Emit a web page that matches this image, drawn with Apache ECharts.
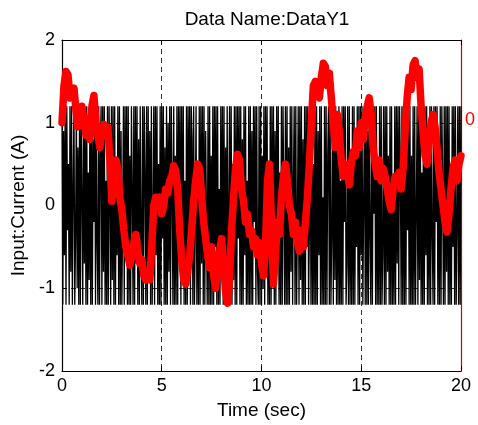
<!DOCTYPE html>
<html>
<head>
<meta charset="utf-8">
<script src="https://cdn.jsdelivr.net/npm/echarts@6/dist/echarts.min.js"></script>
<style>
  html, body { margin: 0; padding: 0; background: #fff; }
  #chart { width: 478px; height: 425px; }
</style>
</head>
<body>
<div id="chart"></div>
<script>
// Excitation input (black), sampled every 0.04 s
const inputStep = 0.04;
const inputValues = [
  1.2,-1.2,0.9,-0.6,1.2,-1.2,1.2,-0.3,0.5,-1.2,
  1.2,-0.8,1.2,-1.2,0.2,1.2,-1.2,-0.4,1.2,-1.0,
  0.7,-1.2,1.2,-1.2,1.2,0.1,-1.2,1.2,-0.7,1.0,
  -1.2,1.2,-1.2,0.4,-0.9,1.2,-1.2,1.2,-1.2,0.8,
  -0.2,1.2,-1.2,1.2,-0.5,-1.2,1.2,-1.2,0.6,1.2,
  -1.2,1.2,-0.8,1.2,-1.2,0.3,-1.2,1.2,-1.2,1.2,
  0.0,-1.2,1.2,-0.9,1.2,-1.2,1.2,-1.2,0.5,-0.6,
  1.2,-1.2,1.2,-1.2,0.9,-1.2,-0.1,1.2,-1.2,1.2,
  -0.4,1.2,-1.2,1.2,-1.2,0.6,-1.2,1.2,0.2,-1.2,
  1.2,-1.2,1.2,-0.7,1.2,-1.2,0.8,-1.2,1.2,-0.3,
  -1.2,1.2,-1.2,1.2,0.4,-1.2,1.2,-1.2,1.2,-0.9,
  0.9,-1.2,1.2,-1.2,-0.2,1.2,-1.2,1.2,-0.6,1.2,
  -1.2,0.5,-1.2,1.2,-1.2,1.2,-0.4,1.2,-1.2,0.7,
  -1.2,1.2,-1.2,1.0,-0.8,1.2,-1.2,1.2,0.1,-1.2,
  1.2,-1.2,0.6,-1.2,1.2,-1.2,1.2,-0.2,1.2,-1.2,
  1.2,-0.9,1.2,-1.2,0.3,-1.2,1.2,-1.2,1.2,-0.5,
  1.2,-1.2,1.2,0.8,-1.2,1.2,-1.2,-0.3,1.2,-1.2,
  0.4,-1.2,1.2,-1.2,1.2,-0.7,1.2,-1.2,1.2,-1.2,
  0.9,-0.1,-1.2,1.2,-1.2,1.2,-1.2,0.6,-1.2,1.2,
  -1.2,1.2,-0.5,1.2,-1.2,1.2,-1.2,0.2,-1.2,1.2,
  -0.8,1.2,-1.2,1.2,-1.2,0.7,-1.2,1.2,-1.2,0.0,
  1.2,-1.2,1.2,-1.2,0.5,-0.9,1.2,-1.2,1.2,-1.2,
  1.2,-0.4,1.2,-1.2,1.2,-1.2,0.8,-1.2,1.2,-0.6,
  1.2,-1.2,0.3,-1.2,1.2,-1.2,1.2,-1.2,0.9,-1.2,
  1.2,-0.2,1.2,-1.2,1.2,-0.8,-1.2,1.2,-1.2,1.2,
  -1.2,0.6,-1.0,1.2,-1.2,1.2,-0.3,1.2,-1.2,0.2,
  -1.2,1.2,-1.2,1.2,-0.7,1.2,-1.2,0.9,-1.2,1.2,
  -0.5,1.2,-1.2,0.4,-1.2,1.2,-1.2,1.2,-0.1,-1.2,
  1.2,-1.2,1.2,-1.2,0.7,-1.2,1.2,-0.8,1.2,-1.2,
  0.3,1.2,-1.2,1.2,-1.2,-0.2,1.2,-1.2,1.2,-0.9,
  1.2,-1.2,0.8,-1.2,1.2,-1.2,1.2,-0.5,1.2,-1.2,
  -0.3,1.2,-1.2,1.2,-1.2,0.5,-1.2,1.2,-1.2,1.2,
  -1.2,0.9,-0.6,1.2,-1.2,1.2,-1.2,0.1,-1.2,1.2,
  -1.2,1.2,-1.2,0.6,1.2,-1.2,1.2,-1.2,-0.4,1.2,
  -1.2,1.2,-0.9,1.2,-1.2,0.8,-1.2,1.2,-1.2,0.3,
  -1.2,1.2,-1.2,1.2,-0.2,1.2,-1.2,-0.7,1.2,-1.2,
  1.2,-1.2,0.5,-1.2,1.2,-1.2,1.2,-1.2,0.7,-0.5,
  1.2,-1.2,1.2,-1.2,1.2,-0.6,1.2,-1.2,0.0,1.2,
  -1.2,1.2,-1.2,0.9,-1.2,1.2,-0.4,-1.2,1.2,-1.2,
  1.2,-0.1,1.2,-1.2,1.2,-1.2,0.4,-1.2,1.2,-1.2,
  1.2,-1.2,-0.6,1.2,-1.2,1.2,-1.2,1.2,-0.8,0.6,
  -1.2,1.2,-1.2,1.2,-1.2,0.2,-1.2,1.2,-1.2,1.2,
  -0.7,1.2,-1.2,1.2,0.5,-1.2,1.2,-1.2,1.2,-1.2,
  0.8,-1.2,1.2,-0.3,1.2,-1.2,1.2,-1.2,0.6,-1.2,
  1.2,-1.2,1.2,-1.2,-0.1,1.2,-1.2,1.2,-0.9,1.2,
  -1.2,0.4,-1.2,1.2,-1.2,1.2,-0.6,1.2,-1.2,0.9,
  -1.2,1.2,-1.2,1.2,-0.4,-1.2,1.2,-1.2,1.2,-0.2,
  1.2,-1.2,0.7,-1.2,1.2,-1.2,1.2,0.3,-1.2,1.2,
  -1.2,1.2,-0.8,1.2,-1.2,1.2,-1.2,0.5,-1.2,1.2,
  -0.5,1.2,-1.2,1.2,-1.2,-0.3,1.2,-1.2,1.2,-1.2,
  1.2
];

// Measured current (red), sampled every 0.1 s
const currentStep = 0.1;
const currentValues = [
  1.0,1.45,1.62,1.58,1.3,1.35,1.42,1.15,0.95,1.05,
  1.2,1.0,0.85,1.05,0.8,1.2,1.33,1.0,0.85,0.7,
  0.9,0.98,0.85,0.95,0.55,0.05,0.35,0.55,0.45,0.1,
  -0.05,-0.3,-0.5,-0.6,-0.72,-0.6,-0.45,-0.35,-0.55,-0.7,
  -0.65,-0.85,-0.9,-0.82,-0.9,-0.5,0.0,0.1,0.05,0.1,
  -0.1,0.0,0.2,0.15,0.3,0.35,0.48,0.42,0.2,-0.3,
  -0.65,-0.9,-0.95,-0.8,-0.6,-0.3,0.05,0.3,0.5,0.45,
  0.1,-0.2,-0.4,-0.6,-0.75,-0.5,-0.85,-1.0,-0.8,-0.55,
  -0.4,-0.7,-1.05,-1.18,-0.9,-0.3,0.1,0.45,0.62,0.55,
  0.2,0.05,-0.2,-0.1,-0.35,-0.3,-0.5,-0.4,-0.6,-0.45,
  -0.7,-0.85,-0.5,0.3,0.5,-0.2,-0.95,-0.6,-0.2,-0.35,
  0.1,0.35,0.5,0.3,0.0,-0.1,-0.35,-0.2,-0.45,-0.55,
  -0.3,-0.5,-0.2,0.1,0.5,1.0,1.45,1.5,1.35,1.3,
  1.55,1.72,1.68,1.45,1.6,1.3,1.0,0.7,1.1,0.9,
  0.55,0.35,0.5,0.4,0.25,0.5,0.65,0.6,0.9,0.7,
  1.0,0.8,1.05,1.2,1.3,1.1,0.7,0.5,0.35,0.55,
  0.3,0.45,0.35,0.2,0.05,-0.05,0.2,0.35,0.3,0.4,
  0.2,0.45,0.9,1.3,1.55,1.4,1.7,1.75,1.55,1.65,
  1.2,0.9,0.6,0.5,0.75,1.0,1.1,0.95,0.7,0.4,
  0.2,0.0,-0.2,-0.32,-0.1,0.2,0.45,0.55,0.3,0.5,
  0.6
];

const xTicks = [0, 5, 10, 15, 20];
const yTicks = [-2, -1, 0, 1, 2];
const rightTicks = [0];

const FONT = 'Liberation Sans, Arial, sans-serif';
const inputData = inputValues.map((v, i) => [+(i * inputStep).toFixed(3), v]);
const currentData = currentValues.map((v, i) => [+(i * currentStep).toFixed(3), v]);

const chart = echarts.init(document.getElementById('chart'), null, { renderer: 'canvas' });

chart.setOption({
  animation: false,
  backgroundColor: '#ffffff',
  title: {
    text: 'Data Name:DataY1',
    left: 262,
    textAlign: 'center',
    top: 5,
    textStyle: { fontFamily: FONT, fontSize: 19, fontWeight: 'normal', color: '#000' }
  },
  grid: { left: 62, right: 16, top: 40, bottom: 54, containLabel: false },
  xAxis: [
    {
      type: 'value', min: xTicks[0], max: xTicks[xTicks.length - 1], interval: 5,
      name: 'Time (sec)', nameLocation: 'middle', nameGap: 30,
      nameTextStyle: { fontFamily: FONT, fontSize: 19, color: '#000' },
      axisLine: { onZero: false, lineStyle: { color: '#000', width: 1.2 } },
      axisTick: { inside: true, length: 5, lineStyle: { color: '#000' } },
      axisLabel: { fontFamily: FONT, fontSize: 18, color: '#000', margin: 6 },
      splitLine: { show: true, lineStyle: { color: '#333', type: [5, 4], width: 1 } }
    },
    {
      type: 'value', position: 'top', min: xTicks[0], max: xTicks[xTicks.length - 1], interval: 5,
      axisLine: { onZero: false, lineStyle: { color: '#000', width: 1.2 } },
      axisTick: { inside: true, length: 5, lineStyle: { color: '#000' } },
      axisLabel: { show: false },
      splitLine: { show: false }
    }
  ],
  yAxis: [
    {
      type: 'value', min: yTicks[0], max: yTicks[yTicks.length - 1], interval: 1,
      name: 'Input:Current (A)', nameLocation: 'middle', nameGap: 34, nameRotate: 90,
      nameTextStyle: { fontFamily: FONT, fontSize: 19, color: '#000' },
      axisLine: { show: true, onZero: false, lineStyle: { color: '#000', width: 1.2 } },
      axisTick: { show: true, inside: true, length: 5, lineStyle: { color: '#000' } },
      axisLabel: { fontFamily: FONT, fontSize: 18, color: '#000', margin: 7 },
      splitLine: { show: true, lineStyle: { color: '#333', type: [5, 4], width: 1 } }
    },
    {
      type: 'value', position: 'right', min: -3, max: 0.96,
      axisLine: { show: true, onZero: false, lineStyle: { color: '#d00000', width: 1.2 } },
      axisTick: { show: true, inside: true, length: 4, customValues: rightTicks, lineStyle: { color: '#e00000' } },
      axisLabel: { show: true, customValues: rightTicks, fontFamily: FONT, fontSize: 18, color: '#ff0000', margin: 4 },
      splitLine: { show: false }
    }
  ],
  series: [
    {
      name: 'Input', type: 'line', xAxisIndex: 0, yAxisIndex: 0,
      data: inputData, showSymbol: false, symbol: 'none', sampling: null,
      lineStyle: { color: '#000', width: 1.3 },
      z: 2
    },
    {
      name: 'Current', type: 'line', xAxisIndex: 0, yAxisIndex: 0,
      data: currentData, showSymbol: false, symbol: 'none',
      lineStyle: { color: '#ff0000', width: 7.5, cap: 'round', join: 'round' },
      z: 3
    }
  ]
});
</script>
</body>
</html>
